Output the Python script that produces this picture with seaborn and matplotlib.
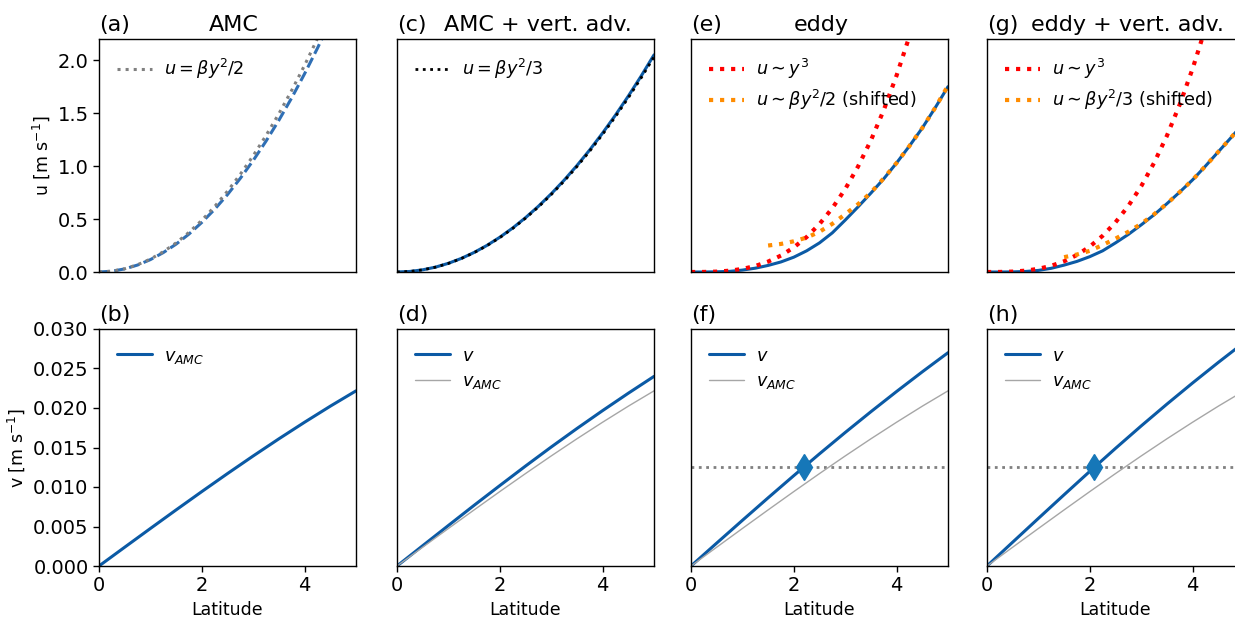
import numpy as np
import pandas as pd
import matplotlib
matplotlib.use("Agg")
import matplotlib.pyplot as plt
import seaborn as sns

sns.set_style("ticks")
plt.rcParams['font.family'] = ['DejaVu Sans']
plt.rcParams['mathtext.fontset'] = 'dejavusans'
plt.rcParams.update({
    'text.color': 'black', 'axes.labelcolor': 'black',
    'xtick.color': 'black', 'ytick.color': 'black', 'axes.edgecolor': 'black',
})

# ---------------- data ----------------
lat_fine = [0.0, 0.25, 0.5, 0.75, 1.0, 1.25, 1.5, 1.75, 2.0, 2.25, 2.5,
            2.75, 3.0, 3.25, 3.5, 3.75, 4.0, 4.25, 4.5, 4.75, 5.0]
lat_shift = [1.5, 1.75, 2.0, 2.25, 2.5, 2.75, 3.0, 3.25, 3.5, 3.75, 4.0,
             4.25, 4.5, 4.75, 5.0]
lat_cube = [0.0, 0.25, 0.5, 0.75, 1.0, 1.25, 1.5, 1.75, 2.0, 2.25, 2.5,
            2.75, 3.0, 3.25, 3.5, 3.75, 4.0, 4.25]
lat_v = [0.0, 0.5, 1.0, 1.5, 2.0, 2.5, 3.0, 3.5, 4.0, 4.5, 5.0]

# (a) AMC
u_amc = [0.0, 0.0073, 0.0293, 0.0658, 0.117, 0.183, 0.263, 0.358, 0.468, 0.592,
         0.731, 0.885, 1.053, 1.236, 1.433, 1.645, 1.872, 2.113, 2.369, 2.640, 2.925]
u_amc_fit = [0.0, 0.0076, 0.0305, 0.0686, 0.122, 0.191, 0.275, 0.374, 0.488, 0.618,
             0.763, 0.923, 1.098, 1.289, 1.495, 1.716, 1.952, 2.204, 2.471, 2.753, 3.050]
# (c) AMC + vert. adv.
u_vadv = [0.0, 0.0051, 0.0205, 0.0461, 0.082, 0.128, 0.1845, 0.251, 0.328, 0.415,
          0.5125, 0.620, 0.738, 0.866, 1.0045, 1.153, 1.312, 1.481, 1.6605, 1.850, 2.050]
u_vadv_fit = [0.0, 0.0051, 0.0203, 0.0457, 0.081, 0.127, 0.183, 0.249, 0.325, 0.411,
              0.508, 0.614, 0.731, 0.858, 0.995, 1.142, 1.300, 1.467, 1.645, 1.833, 2.030]
# (e) eddy
u_eddy = [0.0, 0.0, 0.002, 0.006, 0.018, 0.036, 0.062, 0.095, 0.14, 0.2,
          0.275, 0.37, 0.49, 0.615, 0.745, 0.88, 1.03, 1.19, 1.36, 1.55, 1.75]
u_eddy_cube = [0.0, 0.00045, 0.0036, 0.0122, 0.029, 0.0566, 0.098, 0.155, 0.232, 0.33,
               0.453, 0.603, 0.783, 0.996, 1.243, 1.529, 1.856, 2.226]
u_eddy_shift = [0.25, 0.265, 0.29, 0.325, 0.38, 0.455, 0.545, 0.64, 0.75, 0.885,
                1.03, 1.19, 1.36, 1.55, 1.76]
# (g) eddy + vert. adv.
u_evadv = [0.0, 0.0, 0.001, 0.005, 0.015, 0.035, 0.065, 0.1, 0.145, 0.2,
           0.275, 0.355, 0.445, 0.54, 0.645, 0.755, 0.87, 1.0, 1.135, 1.27, 1.41]
u_evadv_cube = [0.0, 0.0005, 0.00375, 0.0127, 0.03, 0.0586, 0.101, 0.161, 0.24, 0.342,
                0.469, 0.624, 0.81, 1.03, 1.286, 1.582, 1.92, 2.303]
u_evadv_shift = [0.14, 0.165, 0.2, 0.255, 0.315, 0.38, 0.455, 0.545, 0.645, 0.755,
                 0.87, 1.0, 1.135, 1.27, 1.41]

# bottom row: v
v_amc = [0.0, 0.00238, 0.00475, 0.0071, 0.00942, 0.0117, 0.01393, 0.0161, 0.0182, 0.02023, 0.02217]
v_vadv = [0.0, 0.00257, 0.00513, 0.00768, 0.01018, 0.01265, 0.01506, 0.0174, 0.01967, 0.02187, 0.0240]
v_eddy = [0.0, 0.0029, 0.00578, 0.00863, 0.01144, 0.0142, 0.0169, 0.01953, 0.02209, 0.02458, 0.0270]
v_evadv = [0.0, 0.00302, 0.00603, 0.00902, 0.01198, 0.01489, 0.01773, 0.02049, 0.02317, 0.02577, 0.02829]
v_ref = 0.0125
v_cross_f = 2.2
v_cross_h = 2.09

top_titles = ["AMC", "AMC + vert. adv.", "eddy", "eddy + vert. adv."]
top_letters = ["(a)", "(c)", "(e)", "(g)"]
bot_letters = ["(b)", "(d)", "(f)", "(h)"]

# ---------------- styles ----------------
BLUE = '#0b5aa5'
BLUE_D = '#2f6fb5'
GREY_THIN = '#a6a6a6'
GREY_DOT = '#808080'
MARK = '#1677b8'

W, H = 1235, 617
fig = plt.figure(figsize=(W / 100, H / 100), dpi=100)

lefts = [99, 397, 691, 987]
aw = 257
top_row = (39, 272)
bot_row = (329, 566)
title_x = [0.525, 0.549, 0.506, 0.547]

def make_ax(l, row):
    t, b = row
    return fig.add_axes([l / W, 1 - b / H, aw / W, (b - t) / H])

axt = [make_ax(l, top_row) for l in lefts]
axb = [make_ax(l, bot_row) for l in lefts]

TICK_FS = 14
LAB_FS = 12.5
LEG_FS = 12.7
TIT_FS = 16
for ax in axt + axb:
    for s in ax.spines.values():
        s.set_visible(True)
        s.set_color('black')
        s.set_linewidth(1.0)
    ax.set_xlim(0, 5)
    ax.tick_params(labelsize=TICK_FS, length=4, width=1, color='black',
                   labelcolor='black', direction='out')

for i, ax in enumerate(axt):
    ax.set_ylim(0, 2.2)
    ax.set_xticks([])
    ax.set_title(top_letters[i], loc='left', fontsize=TIT_FS)
    ax.set_title(top_titles[i], loc='center', fontsize=TIT_FS, x=title_x[i])
    if i > 0:
        ax.set_yticks([])
    else:
        ax.set_yticks([0.0, 0.5, 1.0, 1.5, 2.0])
        ax.set_ylabel(r"u [m s$^{-1}$]", fontsize=LAB_FS)

for i, ax in enumerate(axb):
    ax.set_ylim(0, 0.030)
    ax.set_xticks([0, 2, 4])
    ax.set_xlabel("Latitude", fontsize=LAB_FS)
    ax.set_title(bot_letters[i], loc='left', fontsize=TIT_FS)
    if i > 0:
        ax.set_yticks([])
    else:
        ax.set_yticks([0.0, 0.005, 0.010, 0.015, 0.020, 0.025, 0.030])
        ax.set_yticklabels(["0.000", "0.005", "0.010", "0.015", "0.020", "0.025", "0.030"])
        ax.set_ylabel(r"v [m s$^{-1}$]", fontsize=LAB_FS)

# (a)
a = axt[0]
sns.lineplot(x=lat_fine, y=u_amc, ax=a, color=BLUE_D, lw=2.2, linestyle=(0, (3.5, 1.5)))
sns.lineplot(x=lat_fine, y=u_amc_fit, ax=a, color=GREY_DOT, lw=2.2, linestyle=':',
             label=r"$u = \beta y^2/2$")
# (c)
c = axt[1]
sns.lineplot(x=lat_fine, y=u_vadv, ax=c, color=BLUE, lw=2.2)
sns.lineplot(x=lat_fine, y=u_vadv_fit, ax=c, color='black', lw=2.0, linestyle=':',
             label=r"$u = \beta y^2/3$")
# (e)
e = axt[2]
sns.lineplot(x=lat_fine, y=u_eddy, ax=e, color=BLUE, lw=2.2)
sns.lineplot(x=lat_cube, y=u_eddy_cube, ax=e, color='red', lw=3, linestyle=':',
             label=r"$u \sim y^3$")
sns.lineplot(x=lat_shift, y=u_eddy_shift, ax=e, color='darkorange', lw=3, linestyle=':',
             label=r"$u \sim \beta y^2/2$ (shifted)")
# (g)
g = axt[3]
sns.lineplot(x=lat_fine, y=u_evadv, ax=g, color=BLUE, lw=2.2)
sns.lineplot(x=lat_cube, y=u_evadv_cube, ax=g, color='red', lw=3, linestyle=':',
             label=r"$u \sim y^3$")
sns.lineplot(x=lat_shift, y=u_evadv_shift, ax=g, color='darkorange', lw=3, linestyle=':',
             label=r"$u \sim \beta y^2/3$ (shifted)")

# bottom row
b = axb[0]
sns.lineplot(x=lat_v, y=v_amc, ax=b, color=BLUE, lw=2.2, label=r"$v_{AMC}$")

for ax, vv in zip(axb[1:], [v_vadv, v_eddy, v_evadv]):
    sns.lineplot(x=lat_v, y=vv, ax=ax, color=BLUE, lw=2.2, label=r"$v$")
    sns.lineplot(x=lat_v, y=v_amc, ax=ax, color=GREY_THIN, lw=1.0, label=r"$v_{AMC}$")

for ax, xc in zip([axb[2], axb[3]], [v_cross_f, v_cross_h]):
    ax.axhline(v_ref, color=GREY_DOT, lw=2, linestyle=':', zorder=1)
    ax.plot([xc], [v_ref], marker='d', color=MARK, markersize=13, zorder=5)

for ax in axt + axb:
    ax.set_xlim(0, 5)
    leg = ax.get_legend()
    if leg is not None:
        leg.remove()
    h, l = ax.get_legend_handles_labels()
    if h:
        ax.legend(h, l, loc='upper left', frameon=False, fontsize=LEG_FS,
                  borderaxespad=0.6, handlelength=2.0, handletextpad=0.7,
                  labelspacing=0.4)

fig.savefig("out.png", dpi=100)
